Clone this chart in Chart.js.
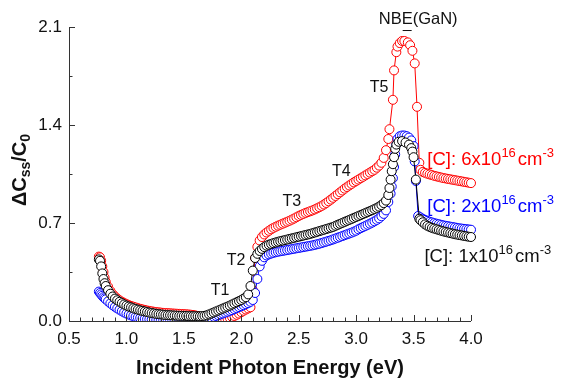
<!DOCTYPE html>
<html>
<head>
<meta charset="utf-8">
<script src="https://cdn.jsdelivr.net/npm/chart.js@4.4.1/dist/chart.umd.min.js"></script>
<style>
  html, body { margin: 0; padding: 0; background: #fff; }
  #wrap { width: 562px; height: 381px; }
</style>
</head>
<body>
<div id="wrap"><canvas id="sspChart" width="562" height="381"></canvas></div>
<script>
// photon energy grid (eV) for the smooth part of the spectra
const energyGrid = [
  0.76, 0.77, 0.78, 0.79, 0.80, 0.81,
  0.82, 0.84, 0.86, 0.88, 0.90, 0.92, 0.94, 0.96, 0.98, 1.00,
  1.02, 1.04, 1.06, 1.08, 1.10, 1.12, 1.14, 1.16, 1.18, 1.20,
  1.22, 1.24, 1.26, 1.28, 1.30, 1.32, 1.34, 1.36, 1.38, 1.40,
  1.42, 1.44, 1.46, 1.48, 1.50, 1.52, 1.54, 1.56, 1.58, 1.60,
  1.62, 1.64, 1.66, 1.68, 1.70, 1.72, 1.74, 1.76, 1.78, 1.80,
  1.82, 1.84, 1.86, 1.88, 1.90, 1.92, 1.94, 1.96, 1.98, 2.00,
  2.02, 2.04, 2.06, 2.08, 2.10, 2.12, 2.14, 2.16, 2.18, 2.20,
  2.22, 2.24, 2.26, 2.28, 2.30, 2.32, 2.34, 2.36, 2.38, 2.40,
  2.42, 2.44, 2.46, 2.48, 2.50, 2.52, 2.54, 2.56, 2.58, 2.60,
  2.62, 2.64, 2.66, 2.68, 2.70, 2.72, 2.74, 2.76, 2.78, 2.80,
  2.82, 2.84, 2.86, 2.88, 2.90, 2.92, 2.94, 2.96, 2.98, 3.00,
  3.02, 3.04, 3.06, 3.08, 3.10, 3.12, 3.14, 3.16, 3.18, 3.20,
  3.22, 3.24, 3.26
];

// [C] = 6x10^16 cm^-3 (red)
const redGrid = [
  0.46, 0.455, 0.43, 0.39, 0.35, 0.31,
  0.28, 0.245, 0.215, 0.192, 0.175, 0.16, 0.148, 0.138, 0.129, 0.121,
  0.114, 0.108, 0.102, 0.097, 0.092, 0.087, 0.083, 0.079, 0.075, 0.072,
  0.069, 0.066, 0.064, 0.062, 0.06, 0.058, 0.057, 0.056, 0.055, 0.054,
  0.053, 0.052, 0.051, 0.05, 0.049, 0.048, 0.047, 0.045, 0.043, 0.04,
  0.036, 0.031, 0.025, 0.019, 0.013, 0.008, 0.005, 0.004, 0.004, 0.005,
  0.007, 0.01, 0.014, 0.018, 0.023, 0.029, 0.036, 0.044, 0.053, 0.063,
  0.073, 0.082, 0.09, 0.098, 0.22, 0.45, 0.53, 0.575, 0.60, 0.618,
  0.632, 0.644, 0.655, 0.665, 0.673, 0.681, 0.688, 0.695, 0.702, 0.709,
  0.716, 0.724, 0.732, 0.741, 0.75, 0.758, 0.765, 0.772, 0.778, 0.784,
  0.79, 0.797, 0.805, 0.813, 0.822, 0.832, 0.843, 0.855, 0.867, 0.88,
  0.893, 0.906, 0.919, 0.932, 0.945, 0.957, 0.968, 0.979, 0.99, 1.0,
  1.01, 1.02, 1.03, 1.04, 1.05, 1.06, 1.07, 1.08, 1.095, 1.11,
  1.13, 1.165, 1.22
];
const redPeakE = [3.28, 3.29, 3.32, 3.33, 3.35, 3.36, 3.38, 3.40, 3.42, 3.45, 3.47, 3.49, 3.51, 3.53, 3.55,
  3.56, 3.58, 3.60, 3.62, 3.64, 3.66, 3.68, 3.70, 3.72, 3.74, 3.76, 3.78, 3.80,
  3.82, 3.84, 3.86, 3.88, 3.90, 3.92, 3.94, 3.96, 3.98, 4.00];
const redPeakV = [1.30, 1.37, 1.58, 1.79, 1.92, 1.96, 1.985, 2.0, 2.0, 1.99, 1.97, 1.93, 1.84, 1.53, 1.13,
  1.08, 1.065, 1.058, 1.052, 1.047, 1.042, 1.037, 1.033, 1.029, 1.025, 1.021, 1.018, 1.015,
  1.012, 1.009, 1.006, 1.003, 1.0, 0.997, 0.994, 0.991, 0.988, 0.985];

// [C] = 2x10^16 cm^-3 (blue)
const blueGrid = [
  0.21, 0.20, 0.19, 0.18, 0.17, 0.162,
  0.155, 0.14, 0.126, 0.113, 0.101, 0.09, 0.08, 0.07, 0.061, 0.053,
  0.046, 0.04, 0.034, 0.029, 0.025, 0.021, 0.018, 0.015, 0.013, 0.011,
  0.009, 0.008, 0.007, 0.006, 0.005, 0.005, 0.004, 0.004, 0.004, 0.004,
  0.004, 0.004, 0.004, 0.005, 0.005, 0.005, 0.006, 0.006, 0.007, 0.007,
  0.008, 0.009, 0.01, 0.012, 0.015, 0.019, 0.024, 0.03, 0.036, 0.042,
  0.048, 0.054, 0.06, 0.066, 0.072, 0.078, 0.085, 0.092, 0.099, 0.106,
  0.113, 0.12, 0.128, 0.137, 0.15, 0.2, 0.3, 0.39, 0.43, 0.455,
  0.468, 0.476, 0.482, 0.487, 0.491, 0.495, 0.498, 0.501, 0.504, 0.507,
  0.51, 0.513, 0.516, 0.519, 0.522, 0.525, 0.528, 0.531, 0.534, 0.537,
  0.54, 0.544, 0.548, 0.552, 0.557, 0.562, 0.567, 0.572, 0.577, 0.583,
  0.589, 0.595, 0.601, 0.607, 0.613, 0.619, 0.625, 0.631, 0.638, 0.645,
  0.655, 0.663, 0.671, 0.679, 0.687, 0.695, 0.703, 0.712, 0.722, 0.733,
  0.748, 0.765, 0.79
];
const bluePeakE = [3.28, 3.30, 3.31, 3.32, 3.33, 3.34, 3.35, 3.36, 3.38, 3.40, 3.42, 3.44, 3.46, 3.48, 3.50, 3.51, 3.52, 3.54,
  3.56, 3.58, 3.60, 3.62, 3.64, 3.66, 3.68, 3.70, 3.72, 3.74, 3.76, 3.78, 3.80,
  3.82, 3.84, 3.86, 3.88, 3.90, 3.92, 3.94, 3.96, 3.98, 4.00];
const bluePeakV = [0.85, 0.91, 0.96, 1.02, 1.10, 1.19, 1.26, 1.30, 1.32, 1.325, 1.325, 1.32, 1.31, 1.29, 1.25, 1.14, 1.0, 0.75,
  0.74, 0.73, 0.722, 0.715, 0.709, 0.704, 0.699, 0.695, 0.691, 0.687, 0.683, 0.68, 0.677,
  0.674, 0.671, 0.668, 0.665, 0.662, 0.66, 0.658, 0.656, 0.654, 0.652];

// [C] = 1x10^16 cm^-3 (black)
const blackGrid = [
  0.44, 0.43, 0.39, 0.34, 0.30, 0.27,
  0.25, 0.22, 0.195, 0.175, 0.16, 0.148, 0.137, 0.127, 0.118, 0.11,
  0.103, 0.097, 0.091, 0.086, 0.081, 0.076, 0.072, 0.068, 0.064, 0.06,
  0.057, 0.054, 0.051, 0.049, 0.047, 0.045, 0.043, 0.042, 0.041, 0.04,
  0.039, 0.038, 0.037, 0.037, 0.036, 0.036, 0.035, 0.035, 0.034, 0.034,
  0.034, 0.034, 0.035, 0.037, 0.041, 0.047, 0.054, 0.061, 0.068, 0.075,
  0.082, 0.089, 0.096, 0.103, 0.11, 0.118, 0.126, 0.134, 0.142, 0.15,
  0.16, 0.17, 0.19, 0.25, 0.36, 0.45, 0.48, 0.50, 0.515, 0.528,
  0.538, 0.545, 0.551, 0.556, 0.561, 0.566, 0.57, 0.574, 0.578, 0.582,
  0.586, 0.59, 0.594, 0.598, 0.602, 0.606, 0.61, 0.614, 0.618, 0.622,
  0.627, 0.632, 0.637, 0.642, 0.647, 0.652, 0.657, 0.662, 0.667, 0.672,
  0.68, 0.687, 0.694, 0.701, 0.708, 0.715, 0.722, 0.729, 0.736, 0.743,
  0.75, 0.757, 0.764, 0.771, 0.778, 0.785, 0.792, 0.80, 0.808, 0.817,
  0.828, 0.842, 0.86
];
const blackPeakE = [3.28, 3.29, 3.30, 3.31, 3.32, 3.33, 3.34, 3.35, 3.37, 3.40, 3.43, 3.46, 3.48, 3.49, 3.50, 3.52, 3.55,
  3.56, 3.58, 3.60, 3.62, 3.64, 3.66, 3.68, 3.70, 3.72, 3.74, 3.76, 3.78, 3.80,
  3.82, 3.84, 3.86, 3.88, 3.90, 3.92, 3.94, 3.96, 3.98, 4.00];
const blackPeakV = [0.90, 0.95, 1.01, 1.07, 1.12, 1.17, 1.23, 1.26, 1.28, 1.285, 1.275, 1.26, 1.235, 1.21, 1.17, 1.01, 0.73,
  0.72, 0.705, 0.69, 0.68, 0.672, 0.665, 0.66, 0.655, 0.65, 0.645, 0.64, 0.636, 0.632,
  0.628, 0.624, 0.62, 0.617, 0.614, 0.611, 0.608, 0.605, 0.602, 0.60];

const xTicks = [0.5, 1.0, 1.5, 2.0, 2.5, 3.0, 3.5, 4.0];
const yTicks = [0.0, 0.7, 1.4, 2.1];
const seriesNames = ['6x10', '2x10', '1x10'];
const transitionLabels = ['T1', 'T2', 'T3', 'T4', 'T5'];

const FONT = "'Liberation Sans', Arial, Helvetica, sans-serif";

function makePoints(gridV, peakE, peakV) {
  const pts = energyGrid.map((e, i) => ({ x: e, y: gridV[i] }));
  peakE.forEach((e, i) => pts.push({ x: e, y: peakV[i] }));
  return pts;
}

function series(label, pts, color) {
  return {
    label: label,
    data: pts,
    borderColor: color,
    borderWidth: 1,
    backgroundColor: '#fff',
    pointBorderColor: color,
    pointBackgroundColor: '#fff',
    pointBorderWidth: 1,
    pointRadius: 4.5,
    tension: 0,
    clip: { left: 6, right: 6, top: 6, bottom: 0 }
  };
}

// text with superscript / subscript pieces
function drawRich(ctx, x, y, parts, color, bold) {
  ctx.save();
  ctx.fillStyle = color;
  ctx.textBaseline = 'alphabetic';
  ctx.textAlign = 'left';
  let cx = x;
  parts.forEach(p => {
    ctx.font = (bold ? 'bold ' : '') + p.size + 'px ' + FONT;
    ctx.fillText(p.t, cx, y + (p.dy || 0));
    cx += ctx.measureText(p.t).width + (p.gap || 0);
  });
  ctx.restore();
  return cx - x;
}

function richWidth(ctx, parts, bold) {
  let w = 0;
  parts.forEach(p => {
    ctx.font = (bold ? 'bold ' : '') + p.size + 'px ' + FONT;
    w += ctx.measureText(p.t).width + (p.gap || 0);
  });
  return w;
}

const decorPlugin = {
  id: 'decor',
  afterDraw(chart) {
    const ctx = chart.ctx;
    const xs = chart.scales.x, ys = chart.scales.y;
    const area = chart.chartArea;

    // axes with inward ticks
    ctx.save();
    ctx.strokeStyle = '#333';
    ctx.lineWidth = 1;
    ctx.beginPath();
    ctx.moveTo(area.left + 0.5, area.top);
    ctx.lineTo(area.left + 0.5, area.bottom + 0.5);
    ctx.lineTo(area.right, area.bottom + 0.5);
    for (let v = 0.5; v <= 4.0001; v += 0.1) {
      const px = Math.round(xs.getPixelForValue(v)) + 0.5;
      const major = Math.abs(v * 2 - Math.round(v * 2)) < 1e-6;
      ctx.moveTo(px, area.bottom);
      ctx.lineTo(px, area.bottom - (major ? 6 : 3.5));
    }
    for (let v = 0; v <= 2.1001; v += 0.35) {
      const py = Math.round(ys.getPixelForValue(v)) + 0.5;
      const major = Math.abs(v / 0.7 - Math.round(v / 0.7)) < 1e-6;
      ctx.moveTo(area.left, py);
      ctx.lineTo(area.left + (major ? 6 : 3.5), py);
    }
    ctx.stroke();
    ctx.restore();

    // x axis title
    ctx.save();
    ctx.fillStyle = '#111';
    ctx.font = 'bold 20px ' + FONT;
    ctx.textAlign = 'center';
    ctx.textBaseline = 'middle';
    ctx.fillText('Incident Photon Energy (eV)', (area.left + area.right) / 2, 368);
    ctx.restore();

    // y axis title with subscripts
    const yParts = [
      { t: '\u0394C', size: 20 },
      { t: 'ss', size: 14, dy: 4 },
      { t: '/C', size: 20 },
      { t: '0', size: 14, dy: 4 }
    ];
    const yw = richWidth(ctx, yParts, true);
    ctx.save();
    ctx.translate(26, 170);
    ctx.rotate(-Math.PI / 2);
    drawRich(ctx, -yw / 2, 0, yParts, '#111', true);
    ctx.restore();

    // transition labels
    const tPos = [[1.815, 0.214], [1.955, 0.43], [2.44, 0.85], [2.87, 1.07], [3.20, 1.67]];
    ctx.save();
    ctx.fillStyle = '#111';
    ctx.font = '16px ' + FONT;
    ctx.textAlign = 'center';
    ctx.textBaseline = 'middle';
    transitionLabels.forEach((t, i) => {
      ctx.fillText(t, xs.getPixelForValue(tPos[i][0]), ys.getPixelForValue(tPos[i][1]));
    });
    // NBE label with marker under E
    const nx = xs.getPixelForValue(3.54), ny = ys.getPixelForValue(2.157);
    ctx.font = '16.5px ' + FONT;
    ctx.fillText('NBE(GaN)', nx, ny);
    const full = ctx.measureText('NBE(GaN)').width;
    const pre = ctx.measureText('NB').width;
    const ew = ctx.measureText('E').width;
    const left = nx - full / 2 + pre;
    ctx.strokeStyle = '#111';
    ctx.lineWidth = 1;
    ctx.beginPath();
    ctx.moveTo(left + 1, ny + 11.5);
    ctx.lineTo(left + ew - 1, ny + 11.5);
    ctx.stroke();
    ctx.restore();

    // concentration labels
    const labelSpec = [
      { color: '#ff0000', e: 3.62, v: 1.114 },
      { color: '#0000ff', e: 3.62, v: 0.779 },
      { color: '#111111', e: 3.595, v: 0.421 }
    ];
    labelSpec.forEach((s, i) => {
      const parts = [
        { t: '[C]: ' + seriesNames[i], size: 18.5 },
        { t: '16', size: 13, dy: -8, gap: 2 },
        { t: 'cm', size: 18.5 },
        { t: '-3', size: 13, dy: -8 }
      ];
      drawRich(ctx, xs.getPixelForValue(s.e), ys.getPixelForValue(s.v), parts, s.color, false);
    });
  }
};

const ctx = document.getElementById('sspChart').getContext('2d');
const chart = new Chart(ctx, {
  type: 'line',
  data: {
    datasets: [
      series('1x10^16', makePoints(blackGrid, blackPeakE, blackPeakV), '#000000'),
      series('2x10^16', makePoints(blueGrid, bluePeakE, bluePeakV), '#0000ff'),
      series('6x10^16', makePoints(redGrid, redPeakE, redPeakV), '#ff0000')
    ]
  },
  options: {
    responsive: false,
    animation: false,
    events: [],
    layout: { padding: { left: 0, top: 27, right: 91, bottom: 0 } },
    plugins: {
      legend: { display: false },
      tooltip: { enabled: false }
    },
    scales: {
      x: {
        type: 'linear',
        min: 0.5,
        max: 4.0,
        afterBuildTicks: scale => { scale.ticks = xTicks.map(v => ({ value: v })); },
        afterFit: scale => { scale.height = 60; },
        ticks: {
          color: '#111',
          padding: 8,
          maxRotation: 0,
          font: { family: FONT, size: 17 },
          callback: v => v.toFixed(1)
        },
        grid: { display: false, drawTicks: false },
        border: { display: false }
      },
      y: {
        min: 0,
        max: 2.1,
        afterBuildTicks: scale => { scale.ticks = yTicks.map(v => ({ value: v })); },
        afterFit: scale => { scale.width = 69; },
        ticks: {
          color: '#111',
          padding: 7,
          font: { family: FONT, size: 17 },
          callback: v => v.toFixed(1)
        },
        grid: { display: false, drawTicks: false },
        border: { display: false }
      }
    }
  },
  plugins: [decorPlugin]
});
</script>
</body>
</html>
